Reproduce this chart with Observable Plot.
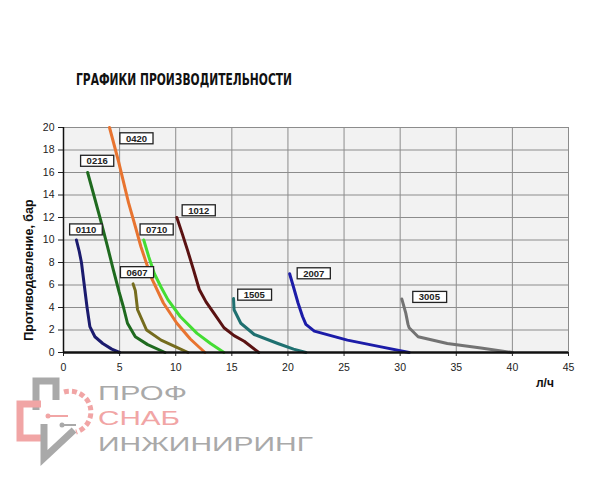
<!DOCTYPE html>
<html><head><meta charset="utf-8">
<script src="https://cdn.jsdelivr.net/npm/d3@7"></script>
<script src="https://cdn.jsdelivr.net/npm/@observablehq/plot@0.6"></script>
<style>
body{margin:0;background:#fff;width:600px;height:480px;overflow:hidden;position:relative;font-family:"Liberation Sans",Arial,sans-serif}
#title{position:absolute;left:0;top:0}
#chart{position:absolute;left:0;top:0}
#ylab{position:absolute;left:29px;top:270px;transform:translate(-50%,-50%) rotate(-90deg);white-space:nowrap;font-weight:bold;font-size:12.5px;color:#111}
#xlab{position:absolute;left:536px;top:376px;font-weight:bold;font-size:12px;color:#111}
#logo{position:absolute;left:0;top:370px}
</style></head><body>
<svg id="title" width="600" height="100"><text x="76" y="85" textLength="216" lengthAdjust="spacingAndGlyphs" font-family="'Liberation Sans Narrow','DejaVu Sans Condensed','Liberation Sans',sans-serif" font-weight="bold" font-size="16" fill="#111">ГРАФИКИ ПРОИЗВОДИТЕЛЬНОСТИ</text></svg>
<div id="chart"></div>
<div id="ylab">Противодавление, бар</div>
<div id="xlab">л/ч</div>
<svg id="logo" width="340" height="110">
  <path d="M36,40 V11 H56 V30" fill="none" stroke="#a9a9a9" stroke-width="7"/>
  <path d="M41,34 H20 V68 H41" fill="none" stroke="#f1a5a5" stroke-width="7"/>
  <path d="M44,54 V88 L74,60" fill="none" stroke="#a9a9a9" stroke-width="7"/>
  <path d="M64,22 A20,20 0 0 1 76,62" fill="none" stroke="#f1a5a5" stroke-width="5" stroke-dasharray="5,3"/>
  <line x1="48" y1="46" x2="68" y2="46" stroke="#f1a5a5" stroke-width="2"/>
  <circle cx="48" cy="46" r="2.5" fill="#f1a5a5"/>
  <line x1="62" y1="55" x2="76" y2="55" stroke="#a9a9a9" stroke-width="2"/>
  <circle cx="62" cy="55" r="2.5" fill="#a9a9a9"/>
  <text x="98" y="30" textLength="89" lengthAdjust="spacingAndGlyphs" font-size="21" fill="#a9a9a9">ПРОФ</text>
  <text x="98" y="55" textLength="82" lengthAdjust="spacingAndGlyphs" font-size="21" fill="#f1a5a5">СНАБ</text>
  <text x="98" y="81" textLength="215" lengthAdjust="spacingAndGlyphs" font-size="21" fill="#a9a9a9">ИНЖИНИРИНГ</text>
</svg>
<script>
const models = ["0110","0216","0420","0607","0710","1012","1505","2007","3005"];
const colors = ["#1b1b6e","#1f6a1f","#e87430","#756c1e","#44dd33","#5a1212","#1f7070","#1c1ca8","#737373"];
const c0110 = [[1.15,10],[1.4,9],[1.6,8],[1.85,6],[2.1,4],[2.35,2.3],[2.8,1.4],[3.5,0.8],[4.3,0.3],[5.0,0]];
const c0216 = [[2.15,16],[2.7,14],[3.3,11.8],[3.9,9.5],[4.4,7.5],[4.95,5.4],[5.35,4],[5.7,2.6],[6.4,1.4],[7.5,0.7],[9.05,0]];
const c0420 = [[4.1,20],[4.9,17],[5.8,13.3],[6.4,11.2],[6.9,9.4],[7.4,7.9],[7.9,6.5],[8.9,4.4],[10.1,2.6],[11.3,1.2],[12.6,0]];
const c0607 = [[6.2,6.1],[6.4,5.5],[6.6,3.8],[7.4,2.0],[8.7,1.1],[10,0.5],[11.1,0]];
const c0710 = [[7.15,10],[7.6,8.5],[8.1,7.0],[8.7,5.8],[9.3,4.7],[10.4,3.2],[11.9,1.7],[13.1,0.8],[14.3,0]];
const c1012 = [[10.1,12],[10.6,10.5],[11.05,9.1],[11.6,7.3],[12.1,5.6],[12.7,4.5],[13.4,3.5],[14.3,2.2],[15.2,1.5],[16.1,1.0],[17.4,0]];
const c1505 = [[15.15,4.8],[15.2,3.8],[15.8,2.6],[17.0,1.6],[19.1,0.8],[20.5,0.3],[21.6,0]];
const c2007 = [[20.15,7.0],[20.5,5.8],[20.9,4.4],[21.3,3.2],[21.6,2.5],[22.35,1.9],[25.3,1.1],[28.3,0.5],[30.8,0]];
const c3005 = [[30.15,4.75],[30.5,3.5],[30.7,2.5],[30.8,2.2],[31.6,1.4],[34.2,0.8],[37.2,0.4],[40.0,0]];
const curves = [c0110,c0216,c0420,c0607,c0710,c1012,c1505,c2007,c3005];
const labelX = [2.0,3.0,6.5,6.55,8.3,12.05,17.0,22.3,32.6];
const labelY = [10.9,17.0,19.0,7.1,10.9,12.6,5.1,7.0,4.9];
const xTicks = [0,5,10,15,20,25,30,35,40,45];
const yTicks = [0,2,4,6,8,10,12,14,16,18,20];

const rows = models.flatMap((m,i)=>curves[i].map(([x,y])=>({model:m,x,y})));
const labels = models.map((m,i)=>({model:m,x:labelX[i],y:labelY[i]}));

const svg = Plot.plot({
  width:600, height:400,
  marginTop:127, marginBottom:48, marginLeft:63, marginRight:32,
  style:{fontFamily:"'Liberation Sans',Arial,sans-serif", color:"#222", background:"transparent"},
  x:{domain:[0,45]},
  y:{domain:[0,20]},
  color:{domain:models, range:colors},
  marks:[
    Plot.frame({fill:"#f2f2f2", stroke:null}),
    Plot.gridX({ticks:xTicks, stroke:"#8c8c8c", strokeOpacity:1, strokeWidth:1}),
    Plot.gridY({ticks:yTicks, stroke:"#8c8c8c", strokeOpacity:1, strokeWidth:1}),
    Plot.axisX({ticks:xTicks, tickSize:4, tickPadding:7, fontSize:10.5, label:null}),
    Plot.axisY({ticks:yTicks, tickSize:5, tickPadding:4, fontSize:10.5, label:null}),
    Plot.ruleX([0], {stroke:"#111", strokeWidth:1.5}),
    Plot.line(rows, {x:"x", y:"y", z:"model", stroke:"model", strokeWidth:3, strokeLinejoin:"round", strokeLinecap:"round"}),
    Plot.ruleY([0], {stroke:"#111", strokeWidth:2.5}),
    Plot.text(labels, {x:"x", y:"y", text:"model", fontSize:9.5, fontWeight:"bold", fill:"#222", className:"lbl"})
  ]
});
document.getElementById("chart").append(svg);
svg.querySelectorAll("g.lbl text").forEach(t=>{
  const bb = t.getBBox();
  const r = document.createElementNS("http://www.w3.org/2000/svg","rect");
  r.setAttribute("x", bb.x-6); r.setAttribute("y", bb.y);
  r.setAttribute("width", bb.width+12); r.setAttribute("height", bb.height);
  r.setAttribute("fill","#fff"); r.setAttribute("stroke","#222"); r.setAttribute("stroke-width","1.3");
  const tr = t.getAttribute("transform"); if (tr) r.setAttribute("transform", tr);
  t.parentNode.insertBefore(r, t);
});
</script>
</body></html>
